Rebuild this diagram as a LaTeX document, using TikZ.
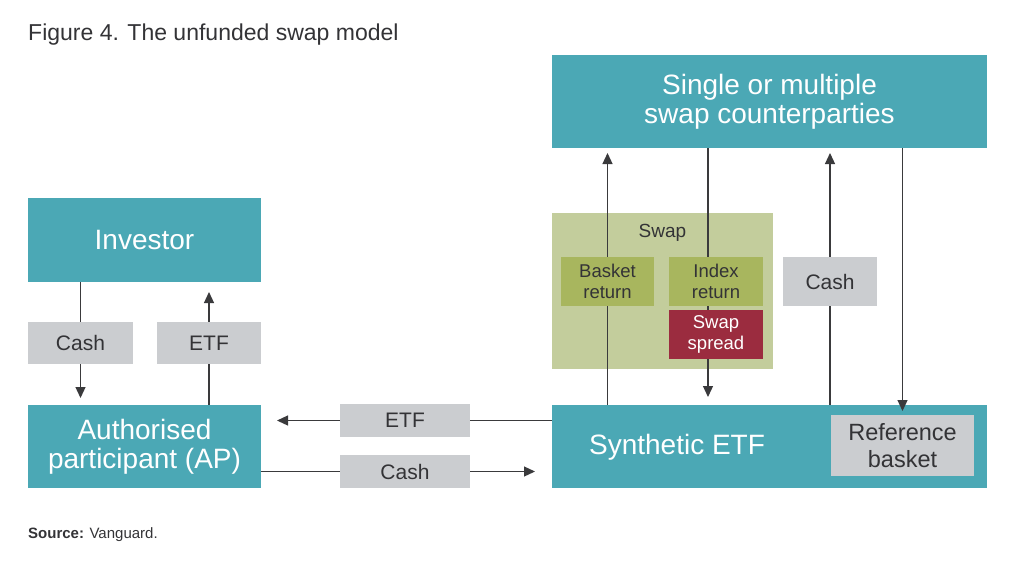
\documentclass[tikz,border=0pt]{standalone}
\usepackage{fontspec}
\setmainfont{Liberation Sans}
\usetikzlibrary{arrows.meta}
\definecolor{tealc}{HTML}{4BA8B5}
\definecolor{grayc}{HTML}{CBCDD0}
\definecolor{greenbg}{HTML}{C3CD9C}
\definecolor{olivec}{HTML}{A8B65E}
\definecolor{redc}{HTML}{9B2C3F}
\definecolor{inkc}{HTML}{3A3A3C}
\definecolor{txtc}{HTML}{333336}
\pgfdeclarelayer{back}
\pgfdeclarelayer{lines}
\pgfsetlayers{back,lines,main}
\tikzset{
  box/.style={rectangle, inner sep=0pt, outer sep=0pt, anchor=north west, align=center},
  tealbox/.style={box, fill=tealc, text=white, font=\fontsize{28}{29}\selectfont},
  graybox/.style={box, fill=grayc, text=txtc, font=\fontsize{21}{24}\selectfont},
  olivebox/.style={box, fill=olivec, text=txtc, font=\fontsize{18.5}{20.5}\selectfont},
  redbox/.style={box, fill=redc, text=white, font=\fontsize{18.5}{20.5}\selectfont},
  arr/.style={draw=inkc, line width=1.2pt, -{Triangle[length=11pt,width=10pt]}},
}
\begin{document}
\begin{tikzpicture}[x=1pt,y=-1pt]
\useasboundingbox (0,0) rectangle (1024,560);
% title and source
\node[anchor=base west, inner sep=0pt, text=txtc, font=\fontsize{23}{26}\selectfont] (title) at (28,40) {Figure 4. The unfunded swap model};
\node[anchor=base west, inner sep=0pt, text=txtc, font=\fontsize{15}{18}\selectfont] (source) at (28,538) {\textbf{Source:} Vanguard.};
% swap container
\begin{pgfonlayer}{back}
\node[box, fill=greenbg, minimum width=221pt, minimum height=156pt] (swapbox) at (552,213) {};
\end{pgfonlayer}
\node[text=txtc, inner sep=0pt, font=\fontsize{19}{22}\selectfont] (swaplbl) at (662.5,233) {Swap};
% teal boxes
\node[tealbox, minimum width=435pt, minimum height=93pt] (top) at (552,55) {Single or multiple\\swap counterparties};
\node[tealbox, minimum width=233pt, minimum height=84pt] (inv) at (28,198) {Investor};
\node[tealbox, minimum width=233pt, minimum height=83pt] (ap) at (28,405) {Authorised\\participant (AP)};
\node[tealbox, minimum width=435pt, minimum height=83pt] (syn) at (552,405) {};
\node[text=white, inner sep=0pt, font=\fontsize{28}{29}\selectfont] (synlbl) at (677,447) {Synthetic ETF};
\node[graybox, minimum width=143pt, minimum height=61pt, font=\fontsize{23.5}{27}\selectfont] (ref) at (831,415) {Reference\\basket};
% gray label boxes
\node[graybox, minimum width=105pt, minimum height=42pt] (cashL) at (28,322) {Cash};
\node[graybox, minimum width=104pt, minimum height=42pt] (etfL) at (157,322) {ETF};
\node[graybox, minimum width=130pt, minimum height=33pt] (etfM) at (340,404) {ETF};
\node[graybox, minimum width=130pt, minimum height=33pt] (cashM) at (340,455) {Cash};
\node[graybox, minimum width=94pt, minimum height=49pt] (cashR) at (783,257) {Cash};
% swap inner boxes
\node[olivebox, minimum width=93pt, minimum height=49pt] (basket) at (561,257) {Basket\\return};
\node[olivebox, minimum width=94pt, minimum height=49pt] (index) at (669,257) {Index\\return};
\node[redbox, minimum width=94pt, minimum height=49pt] (spread) at (669,310) {Swap\\spread};
\coordinate (idxline) at (708,0);
% connectors
\begin{pgfonlayer}{lines}
\draw[arr, shorten >=7pt] (inv.south -| cashL.center) -- (ap.north -| cashL.center);
\draw[arr, shorten >=10pt] (ap.north -| etfL.center) -- (inv.south -| etfL.center);
\draw[arr, shorten >=5pt] (syn.north -| basket.center) -- (top.south -| basket.center);
\draw[arr, shorten >=8pt] (top.south -| idxline) -- (syn.north -| idxline);
\draw[arr, shorten >=5pt] (syn.north -| cashR.center) -- (top.south -| cashR.center);
\draw[arr, shorten >=16pt] (syn.west |- etfM.center) -- (ap.east |- etfM.center);
\draw[arr, shorten >=17pt] (ap.east |- cashM.center) -- (syn.west |- cashM.center);
\end{pgfonlayer}
\draw[arr, shorten >=4pt] (top.south -| ref.north) -- (ref.north);
\end{tikzpicture}
\end{document}
